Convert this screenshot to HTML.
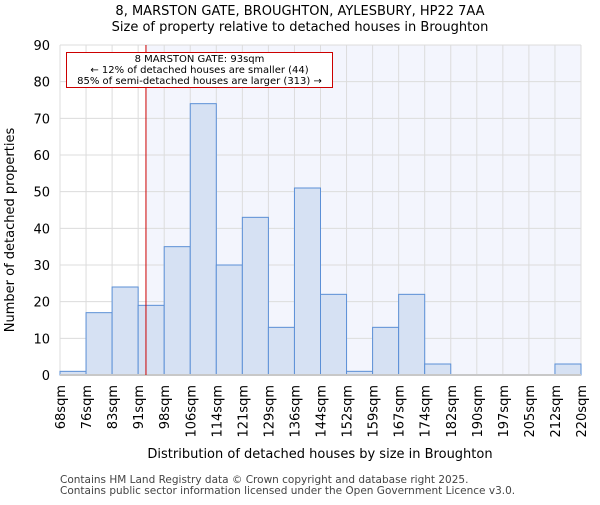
<!DOCTYPE html>
<html><head><meta charset="utf-8"><style>body{margin:0;background:#fff}svg{font-family:"DejaVu Sans","Liberation Sans",sans-serif}</style></head>
<body>
<svg id="c" width="600" height="500" xmlns="http://www.w3.org/2000/svg"></svg>
<script>
const labels=["68sqm","76sqm","83sqm","91sqm","98sqm","106sqm","114sqm","121sqm","129sqm","136sqm","144sqm","152sqm","159sqm","167sqm","174sqm","182sqm","190sqm","197sqm","205sqm","212sqm","220sqm"];
const counts=[1,17,24,19,35,74,30,43,13,51,22,1,13,22,3,0,0,0,0,3];
const yTicks=[0,10,20,30,40,50,60,70,80,90];
const markerBin=3.3;
const L=60,R=581,T=45,B=375,yMax=90;
const bw=(R-L)/counts.length;
const x=i=>L+i*bw, y=v=>B-(v/yMax)*(B-T);
const s=document.getElementById('c');const NS="http://www.w3.org/2000/svg";
function el(t,a,p){const e=document.createElementNS(NS,t);for(const k in a)e.setAttribute(k,a[k]);(p||s).appendChild(e);return e;}
function txt(str,a){const e=el('text',a);e.textContent=str;return e;}
let t=txt("8, MARSTON GATE, BROUGHTON, AYLESBURY, HP22 7AA",{x:300,y:15,'text-anchor':'middle','font-size':13});

t=txt("Size of property relative to detached houses in Broughton",{x:300,y:31,'text-anchor':'middle','font-size':13});

const mx=x(markerBin);
let r=el('rect',{x:mx,y:T,width:R-mx,height:B-T,fill:'#f3f5fd'});

yTicks.forEach(v=>{let g=el('line',{x1:L,x2:R,y1:y(v),y2:y(v),stroke:'#dcdcdc'});

let tl=txt(v,{x:L-10,y:y(v)+5,'text-anchor':'end','font-size':13});
});
labels.forEach((lb,i)=>{let g=el('line',{x1:x(i),x2:x(i),y1:T,y2:B,stroke:'#dcdcdc'});

let tl=txt(lb,{x:0,y:0,'text-anchor':'end','font-size':13,transform:`translate(${x(i)+5},${B+10}) rotate(-90)`});
});
counts.forEach((v,i)=>{let b=el('rect',{x:x(i),y:y(v),width:bw,height:B-y(v),fill:'#d6e1f3',stroke:'#5b8fd6','stroke-width':1});
});
let ax=el('line',{x1:L,x2:R,y1:B,y2:B,stroke:'#c8c8c8','stroke-width':2});

let ml=el('line',{x1:mx,x2:mx,y1:T,y2:B,stroke:'#cc0000','stroke-width':1});

let bx=el('rect',{x:66.5,y:52.5,width:266,height:35,fill:'#fff',stroke:'#cc0000'});

["8 MARSTON GATE: 93sqm","← 12% of detached houses are smaller (44)","85% of semi-detached houses are larger (313) →"].forEach((l,i)=>{
let a=txt(l,{x:199.5,y:62+i*11,'text-anchor':'middle','font-size':10});
});
t=txt("Distribution of detached houses by size in Broughton",{x:320,y:458,'text-anchor':'middle','font-size':13});

t=txt("Number of detached properties",{x:0,y:0,'text-anchor':'middle','font-size':13,transform:'translate(14,230) rotate(-90)'});

t=txt("Contains HM Land Registry data © Crown copyright and database right 2025.",{x:60,y:483,'font-size':10.5,fill:'#444'});

t=txt("Contains public sector information licensed under the Open Government Licence v3.0.",{x:60,y:494,'font-size':10.5,fill:'#444'});

</script>
</body></html>
